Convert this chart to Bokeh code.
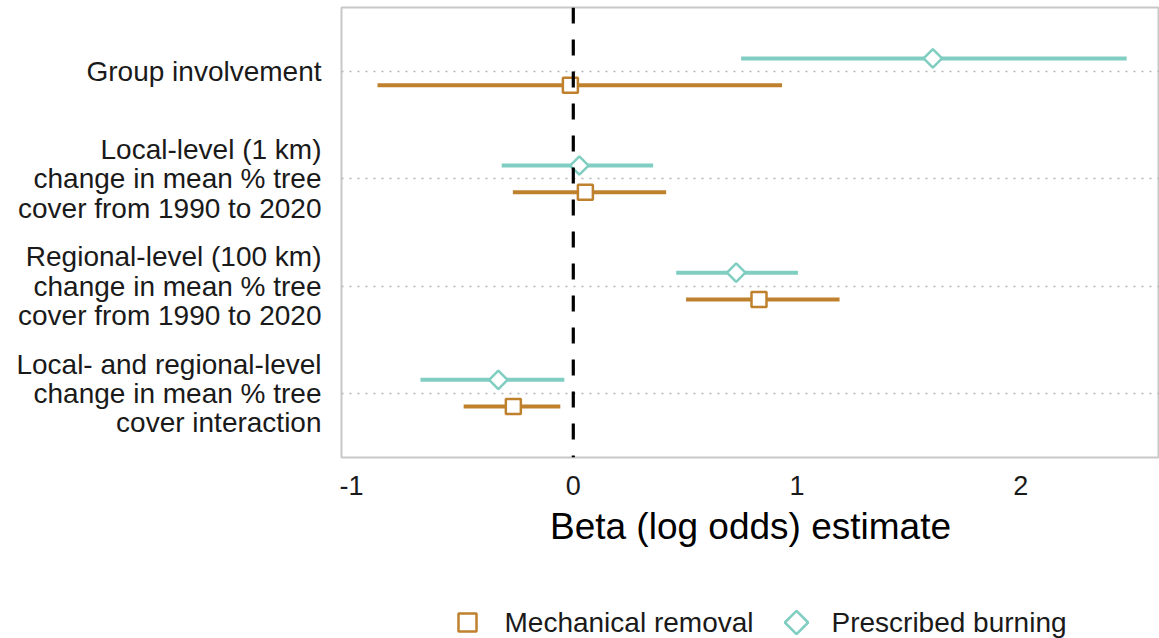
from bokeh.plotting import figure
from bokeh.models import ColumnDataSource, FactorRange, Range1d, Span, FixedTicker
from bokeh.layouts import column, row
from bokeh.transform import dodge
from bokeh.core.properties import value
from bokeh.embed import file_html
from bokeh.resources import INLINE

# Predictors, listed bottom to top on the y axis
categories = [
    "Local- and regional-level\nchange in mean % tree\ncover interaction",
    "Regional-level (100 km)\nchange in mean % tree\ncover from 1990 to 2020",
    "Local-level (1 km)\nchange in mean % tree\ncover from 1990 to 2020",
    "Group involvement",
]

# Mechanical removal: estimate and interval bounds
mech_est = [-0.268, 0.83, 0.054, -0.013]
mech_lo = [-0.49, 0.504, -0.27, -0.875]
mech_hi = [-0.058, 1.19, 0.415, 0.933]

# Prescribed burning: estimate and interval bounds
burn_est = [-0.335, 0.728, 0.027, 1.607]
burn_lo = [-0.683, 0.46, -0.32, 0.75]
burn_hi = [-0.04, 1.004, 0.357, 2.473]

x_ticks = [-1, 0, 1, 2]
x_tick_labels = {-1: "-1", 0: "0", 1: "1", 2: "2"}
series_names = ["Mechanical removal", "Prescribed burning"]

MECH_COLOR = "#BF812D"
BURN_COLOR = "#80CDC1"
FONT = "Liberation Sans"
TEXT_COLOR = "#1a1a1a"

TOP, BOTTOM = 7, 103

mech = ColumnDataSource(dict(cat=categories, est=mech_est, lo=mech_lo, hi=mech_hi))
burn = ColumnDataSource(dict(cat=categories, est=burn_est, lo=burn_lo, hi=burn_hi))
y_range = FactorRange(*categories, range_padding=0.1, range_padding_units="absolute")

p = figure(
    width=820, height=560,
    y_range=y_range, x_range=Range1d(-1.036, 2.62),
    output_backend="svg", toolbar_location=None,
    min_border_left=2, min_border_right=0, min_border_top=TOP, min_border_bottom=BOTTOM,
)
p.background_fill_color = "white"
p.border_fill_color = "white"
p.outline_line_color = "#c8c8c8"
p.outline_line_width = 2

# grid: dotted horizontal lines at each predictor only
p.xgrid.grid_line_color = None
p.ygrid.grid_line_color = "#b4b4b4"
p.ygrid.grid_line_dash = "2 6"
p.ygrid.grid_line_width = 1.5

# burning sits just above each predictor line, mechanical removal just below
y_burn = dodge("cat", 0.125, range=y_range)
y_mech = dodge("cat", -0.125, range=y_range)

p.segment(x0="lo", x1="hi", y0=y_burn, y1=y_burn, source=burn,
          line_color=BURN_COLOR, line_width=4)
p.segment(x0="lo", x1="hi", y0=y_mech, y1=y_mech, source=mech,
          line_color=MECH_COLOR, line_width=4)

p.scatter(x="est", y=y_burn, source=burn, marker="square", angle=0.7854,
          size=13, fill_color="white", line_color=BURN_COLOR, line_width=2.5)
p.scatter(x="est", y=y_mech, source=mech, marker="square",
          size=15, fill_color="white", line_color=MECH_COLOR, line_width=2.5)

# reference line at zero
p.add_layout(Span(location=0, dimension="height", line_color="black",
                  line_width=3.2, line_dash="16 16"))

# x axis
xa = p.xaxis[0]
xa.ticker = FixedTicker(ticks=x_ticks)
xa.major_label_overrides = x_tick_labels
xa.axis_line_color = None
xa.major_tick_line_color = None
xa.minor_tick_line_color = None
xa.major_tick_out = 0
xa.major_label_standoff = 18
xa.major_label_text_font = FONT
xa.major_label_text_font_size = "27px"
xa.major_label_text_color = TEXT_COLOR
xa.axis_label = "Beta (log odds) estimate"
xa.axis_label_text_font = FONT
xa.axis_label_text_font_size = "37px"
xa.axis_label_text_font_style = "normal"
xa.axis_label_text_color = "black"
xa.axis_label_standoff = 8

p.yaxis.visible = False

# predictor labels, placed on the shared categorical range
lab = figure(width=339, height=560, y_range=y_range, x_range=Range1d(0, 339),
             output_backend="svg", toolbar_location=None,
             min_border_left=0, min_border_right=0, min_border_top=TOP,
             min_border_bottom=BOTTOM)
lab.axis.visible = False
lab.grid.visible = False
lab.outline_line_color = None
lab.text(x=321, y="cat", text="cat", source=ColumnDataSource(dict(cat=categories)),
         text_font=value(FONT), text_font_size="28px", text_color=TEXT_COLOR,
         text_align="right", text_baseline="middle", text_line_height=0.94)

# legend strip below the plot, laid out in pixel coordinates
leg = figure(width=1159, height=78, x_range=Range1d(0, 1159), y_range=Range1d(0, 78),
             output_backend="svg", toolbar_location=None,
             min_border_left=0, min_border_right=0, min_border_top=0, min_border_bottom=0)
leg.axis.visible = False
leg.grid.visible = False
leg.outline_line_color = None

key_src = ColumnDataSource(dict(x=[467, 796], y=[16, 16], label_x=[504, 831],
                                label=series_names, color=[MECH_COLOR, BURN_COLOR],
                                angle=[0.0, 0.7854], size=[18, 16.5]))
leg.scatter(x="x", y="y", source=key_src, marker="square", angle="angle", size="size",
            fill_color="white", line_color="color", line_width=2.5)
leg.text(x="label_x", y="y", text="label", source=key_src, text_font=value(FONT),
         text_font_size="28px", text_color=TEXT_COLOR, text_baseline="middle")

layout = column(row(lab, p, spacing=0), leg, spacing=0)
open("out.html", "w").write(file_html(layout, INLINE))
